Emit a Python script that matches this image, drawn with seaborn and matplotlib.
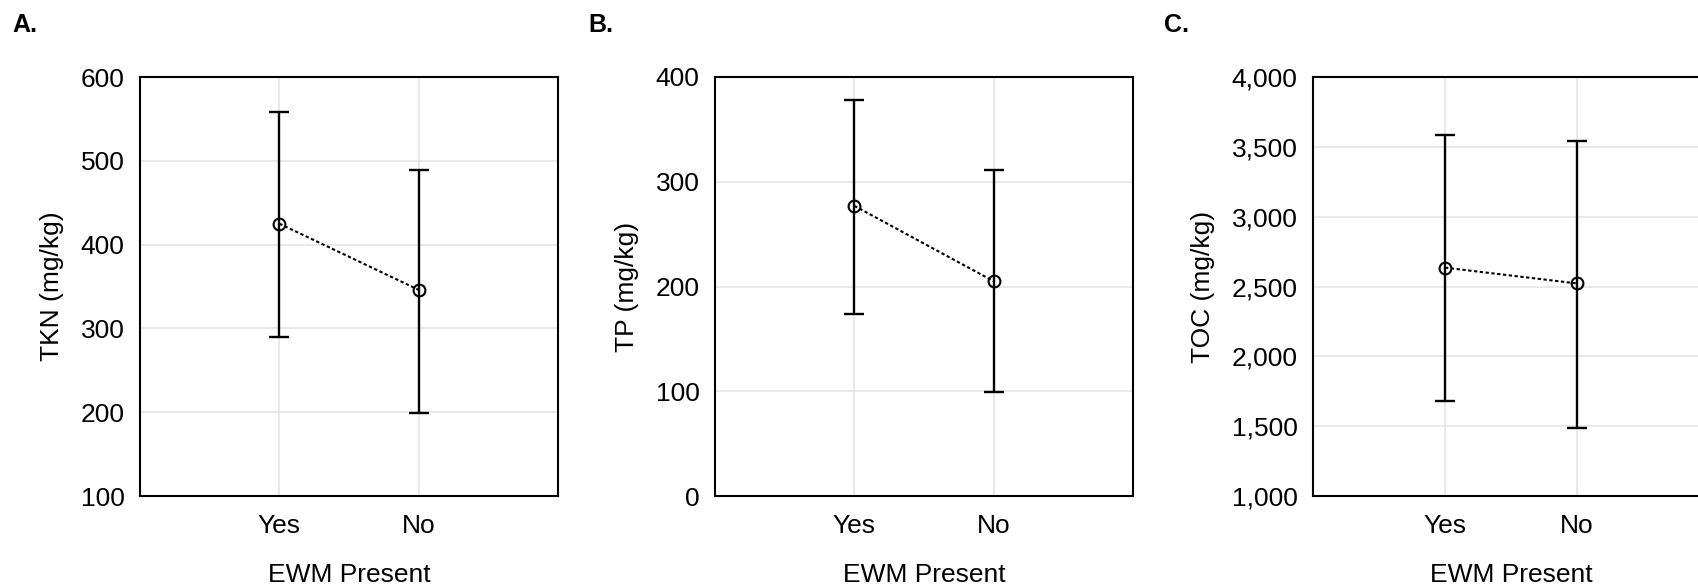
import numpy as np
import matplotlib
matplotlib.use("Agg")
import matplotlib.pyplot as plt
import matplotlib.ticker as mticker
import seaborn as sns

# EWM presence groups and read-off means with interval limits (mg/kg)
groups = ["Yes", "No"]

tkn_mean = [425, 346]
tkn_low = [290, 199]
tkn_high = [558, 489]

tp_mean = [277, 205]
tp_low = [174, 99]
tp_high = [378, 311]

toc_mean = [2635, 2522]
toc_low = [1680, 1487]
toc_high = [3582, 3545]

panel_labels = ["A.", "B.", "C."]
y_labels = ["TKN (mg/kg)", "TP (mg/kg)", "TOC (mg/kg)"]
y_ticks = [[100, 200, 300, 400, 500, 600],
           [0, 100, 200, 300, 400],
           [1000, 1500, 2000, 2500, 3000, 3500, 4000]]
x_label = "EWM Present"

sns.set_style("white")
plt.rcParams['font.family'] = ['Liberation Sans', 'DejaVu Sans']
plt.rcParams.update({"text.color": "black", "axes.labelcolor": "black",
                     "xtick.color": "black", "ytick.color": "black"})

W, H = 1699, 587
fig = plt.figure(figsize=(W / 100, H / 100), dpi=100)

# axes rectangles in pixels: left, right, top, bottom
boxes = [(140, 558, 77, 496), (715, 1133, 77, 496), (1313, 1709, 77, 496)]
label_x = [12, 588, 1164]

series = [(tkn_mean, tkn_low, tkn_high),
          (tp_mean, tp_low, tp_high),
          (toc_mean, toc_low, toc_high)]

for i, (mean, low, high) in enumerate(series):
    l, r, t, b = boxes[i]
    ax = fig.add_axes([l / W, 1 - b / H, (r - l) / W, (b - t) / H])

    pos = np.arange(len(groups))
    mean = np.array(mean)
    err = [mean - np.array(low), np.array(high) - mean]
    ax.errorbar(pos, mean, yerr=err, fmt="none", ecolor="black",
                elinewidth=1.7, capsize=7, capthick=1.7, zorder=3)

    sns.pointplot(x=groups, y=list(mean), order=groups, errorbar=None,
                  color="black", ax=ax, marker="o", markersize=8.5,
                  markerfacecolor="none", markeredgecolor="black",
                  markeredgewidth=1.5, linestyle=(0, (1.6, 1.2)), linewidth=1.5,
                  zorder=4)

    ax.grid(True, axis="both", color="#e3e3e3", linewidth=1.1)
    ax.set_axisbelow(True)

    ax.set_xlim(-1, 2)
    ax.set_ylim(y_ticks[i][0], y_ticks[i][-1])
    ax.set_yticks(y_ticks[i])
    ax.set_xticks(pos)
    ax.set_xticklabels(groups)
    if i == 2:
        ax.yaxis.set_major_formatter(mticker.StrMethodFormatter("{x:,.0f}"))

    for s in ax.spines.values():
        s.set_visible(True)
        s.set_color("black")
        s.set_linewidth(1.5)

    ax.tick_params(axis="both", direction="in", length=4, width=1.2,
                   labelsize=19, colors="black")
    ax.tick_params(axis="y", pad=11)
    ax.tick_params(axis="x", pad=13)
    ax.set_xlabel(x_label, fontsize=19, labelpad=18)
    ax.set_ylabel(y_labels[i], fontsize=19, labelpad=12)

    fig.text(label_x[i] / W, 1 - 13 / H, panel_labels[i], fontsize=18,
             fontweight="bold", ha="left", va="top")

fig.savefig("out.png", dpi=100)
